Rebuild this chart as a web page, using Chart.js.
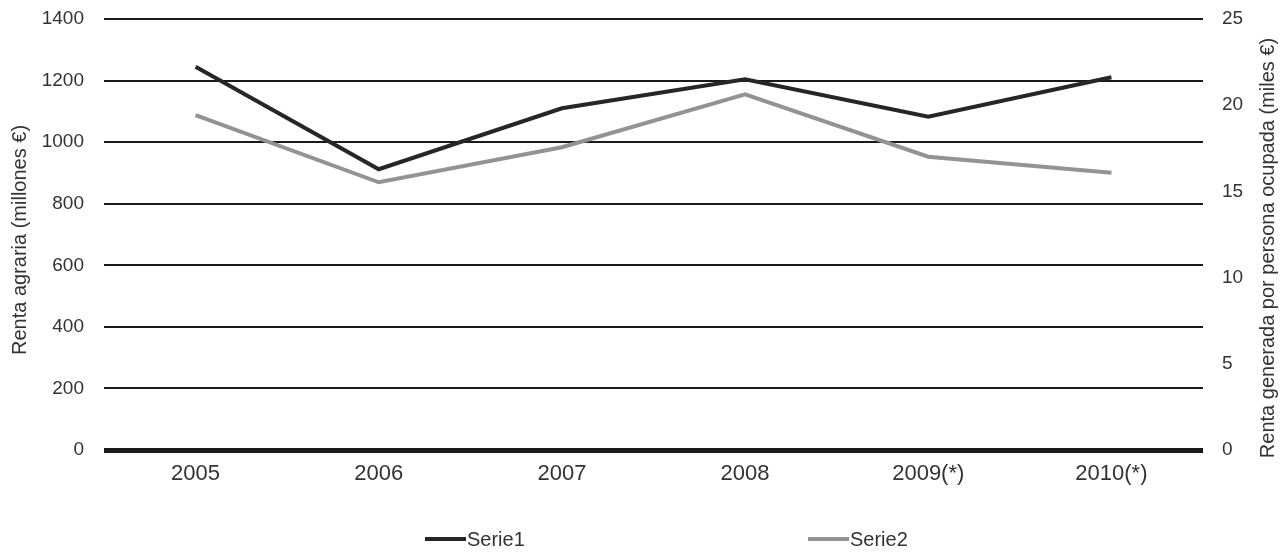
<!DOCTYPE html>
<html>
<head>
<meta charset="utf-8">
<script src="https://cdn.jsdelivr.net/npm/chart.js@4/dist/chart.umd.min.js"></script>
<style>
  html, body { margin: 0; padding: 0; background: #ffffff; }
  #wrap { width: 1288px; height: 555px; position: relative; }
</style>
</head>
<body>
<div id="wrap"><canvas id="c" width="1288" height="555"></canvas></div>
<script>
const categories = ['2005', '2006', '2007', '2008', '2009(*)', '2010(*)'];
const serie1 = [1245, 912, 1110, 1204, 1083, 1211];
const serie2 = [19.43, 15.53, 17.56, 20.63, 17.01, 16.08];
const seriesNames = ['Serie1', 'Serie2'];
const leftAxisTitle = 'Renta agraria (millones €)';
const rightAxisTitle = 'Renta generada por persona ocupada (miles €)';

const FONT = "'Liberation Sans', Arial, Helvetica, sans-serif";
const TEXT = '#333333';

const customDecor = {
  id: 'customDecor',
  afterDraw(chart) {
    const ctx = chart.ctx;
    ctx.save();
    ctx.fillStyle = TEXT;
    ctx.font = '20px ' + FONT;
    ctx.textAlign = 'center';
    ctx.textBaseline = 'middle';
    // left title
    ctx.save();
    ctx.translate(20, 240);
    ctx.rotate(-Math.PI / 2);
    ctx.fillText(leftAxisTitle, 0, 0);
    ctx.restore();
    // right title (reads bottom to top)
    ctx.save();
    ctx.translate(1268, 248);
    ctx.rotate(-Math.PI / 2);
    ctx.fillText(rightAxisTitle, 0, 0);
    ctx.restore();
    // legend
    const items = chart.data.datasets.map(d => ({ label: d.label, color: d.borderColor }));
    const lineStarts = [425, 808];
    const ly = 539;
    ctx.font = '20px ' + FONT;
    ctx.textAlign = 'left';
    items.forEach((it, i) => {
      const x0 = lineStarts[i];
      ctx.strokeStyle = it.color;
      ctx.lineWidth = 4;
      ctx.beginPath();
      ctx.moveTo(x0, ly);
      ctx.lineTo(x0 + 41, ly);
      ctx.stroke();
      ctx.fillStyle = TEXT;
      ctx.fillText(it.label, x0 + 42, ly + 1);
    });
    ctx.restore();
  }
};

function fixVertical(width) {
  return function (scale) {
    scale.width = width;
    scale.paddingTop = 0;
    scale.paddingBottom = 0;
  };
}

new Chart(document.getElementById('c'), {
  type: 'line',
  data: {
    labels: categories,
    datasets: [
      {
        label: seriesNames[0],
        data: serie1,
        yAxisID: 'y',
        borderColor: '#262626',
        borderWidth: 4,
        pointRadius: 0,
        tension: 0,
        fill: false
      },
      {
        label: seriesNames[1],
        data: serie2,
        yAxisID: 'y1',
        borderColor: '#939393',
        borderWidth: 4,
        pointRadius: 0,
        tension: 0,
        fill: false
      }
    ]
  },
  options: {
    responsive: false,
    animation: false,
    devicePixelRatio: 1,
    layout: { padding: { top: 19, bottom: 45, left: 0, right: 0 } },
    plugins: {
      legend: { display: false },
      tooltip: { enabled: false },
      title: { display: false }
    },
    scales: {
      x: {
        type: 'category',
        offset: true,
        grid: { display: false, drawTicks: false },
        border: { display: false },
        ticks: { color: TEXT, font: { family: FONT, size: 22 }, padding: 11, maxRotation: 0 },
        afterFit(scale) { scale.height = 60; }
      },
      y: {
        position: 'left',
        min: 0,
        max: 1400,
        ticks: {
          stepSize: 200, color: TEXT, font: { family: FONT, size: 19 }, padding: 20,
          callback: v => String(v)
        },
        grid: {
          color: '#1a1a1a',
          lineWidth: c => (c.tick && c.tick.value === 0 ? 5 : 2),
          drawTicks: false
        },
        border: { display: false },
        afterFit: fixVertical(104)
      },
      y1: {
        position: 'right',
        min: 0,
        max: 25,
        ticks: {
          stepSize: 5, color: TEXT, font: { family: FONT, size: 19 }, padding: 19,
          callback: v => String(v)
        },
        grid: { drawOnChartArea: false, drawTicks: false },
        border: { display: false },
        afterFit: fixVertical(85)
      }
    }
  },
  plugins: [customDecor]
});
</script>
</body>
</html>
